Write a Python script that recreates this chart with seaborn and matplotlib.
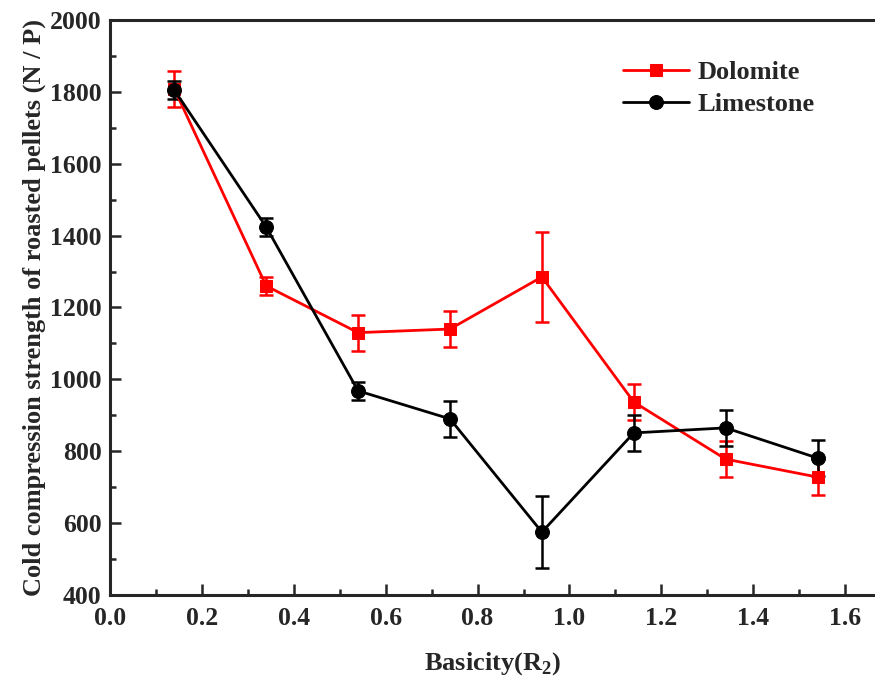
import matplotlib
matplotlib.use("Agg")
from matplotlib import pyplot as plt
from matplotlib.ticker import MultipleLocator, FormatStrFormatter
import seaborn as sns
import pandas as pd

basicity = [0.14, 0.34, 0.54, 0.74, 0.94, 1.14, 1.34, 1.54]
dolomite = [1808, 1260, 1130, 1140, 1285, 937, 778, 728]
dolomite_err = [50, 25, 50, 50, 125, 50, 50, 50]
limestone = [1805, 1424, 968, 890, 575, 851, 865, 781]
limestone_err = [25, 25, 25, 50, 100, 50, 50, 50]

df = pd.DataFrame({
    "Basicity": basicity * 2,
    "Strength": dolomite + limestone,
    "Err": dolomite_err + limestone_err,
    "Flux": ["Dolomite"] * len(basicity) + ["Limestone"] * len(basicity),
})

sns.set_style("ticks")
plt.rcParams['font.family'] = ['Liberation Serif', 'DejaVu Serif']
plt.rcParams['font.weight'] = 'bold'
plt.rcParams['axes.labelweight'] = 'bold'
plt.rcParams['mathtext.fontset'] = 'custom'
plt.rcParams['mathtext.rm'] = 'Liberation Serif:bold'
plt.rcParams['mathtext.bf'] = 'Liberation Serif:bold'

fig = plt.figure(figsize=(8.75, 6.82), dpi=100)
ax = fig.add_axes([0.1257, 0.1276, 0.8743, 0.8431])

colors = {"Dolomite": "#ff0000", "Limestone": "#000000"}
markers = {"Dolomite": "s", "Limestone": "o"}
msizes = {"Dolomite": 9, "Limestone": 10}

for name in ["Dolomite", "Limestone"]:
    sub = df[df["Flux"] == name]
    ax.errorbar(sub["Basicity"], sub["Strength"], yerr=sub["Err"], fmt="none",
                ecolor=colors[name], elinewidth=1.8, capsize=5, capthick=1.8, zorder=2)
    sns.lineplot(data=sub, x="Basicity", y="Strength", ax=ax, color=colors[name],
                 marker=markers[name], markersize=msizes[name], markeredgecolor=colors[name],
                 linewidth=2, label=name, zorder=3)

ax.set_xlim(0, 1.665)
ax.set_ylim(400, 2000)
ax.xaxis.set_major_locator(MultipleLocator(0.2))
ax.xaxis.set_minor_locator(MultipleLocator(0.1))
ax.yaxis.set_major_locator(MultipleLocator(200))
ax.yaxis.set_minor_locator(MultipleLocator(100))
ax.xaxis.set_major_formatter(FormatStrFormatter('%.1f'))
ax.tick_params(which="major", direction="in", length=8, width=1.8, labelsize=18.5)
ax.tick_params(axis="x", which="major", pad=9)
ax.tick_params(axis="y", which="major", pad=6)
ax.tick_params(which="minor", direction="in", length=4, width=1.8)
for side in ["left", "bottom", "top"]:
    ax.spines[side].set_linewidth(2.2)
ax.spines["right"].set_visible(False)

ax.set_xlabel(r"Basicity(R$_{2}$)", fontsize=19, fontweight="bold", labelpad=14)
ax.set_ylabel("Cold compression strength of roasted pellets (N / P)", fontsize=19,
              fontweight="bold", labelpad=3)

leg = ax.legend(loc="upper left", bbox_to_anchor=(0.64, 0.97), frameon=False,
                fontsize=19, handlelength=2.5, handletextpad=0.3, labelspacing=0.3)

fig.savefig("out.png", dpi=100)
